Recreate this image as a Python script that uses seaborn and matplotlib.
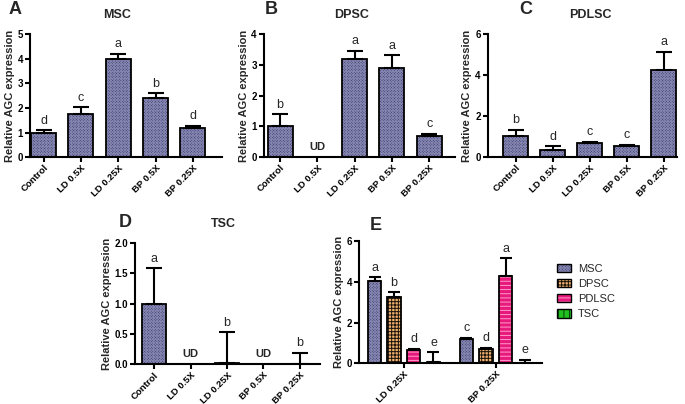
import numpy as np
import pandas as pd
import matplotlib
matplotlib.use("Agg")
import matplotlib.pyplot as plt
from matplotlib.patches import Rectangle, Patch
import seaborn as sns

# data
groups = ["Control", "LD 0.5X", "LD 0.25X", "BP 0.5X", "BP 0.25X"]

msc_mean = [1.0, 1.77, 3.98, 2.41, 1.2]
msc_err = [0.1, 0.26, 0.23, 0.19, 0.07]
msc_letters = ["d", "c", "a", "b", "d"]

dpsc_mean = [1.01, 0.0, 3.21, 2.92, 0.68]
dpsc_err = [0.39, 0.0, 0.25, 0.4, 0.08]
dpsc_letters = ["b", "UD", "a", "a", "c"]

pdlsc_mean = [1.01, 0.34, 0.67, 0.55, 4.28]
pdlsc_err = [0.34, 0.2, 0.08, 0.05, 0.86]
pdlsc_letters = ["b", "d", "c", "c", "a"]

tsc_mean = [1.0, 0.0, 0.02, 0.0, 0.01]
tsc_err = [0.58, 0.0, 0.51, 0.0, 0.18]
tsc_letters = ["a", "UD", "b", "UD", "b"]

combo_groups = ["LD 0.25X", "BP 0.25X"]
cell_types = ["MSC", "DPSC", "PDLSC", "TSC"]
combo_mean = {"MSC": [4.02, 1.2], "DPSC": [3.25, 0.7], "PDLSC": [0.66, 4.28], "TSC": [0.05, 0.03]}
combo_err = {"MSC": [0.21, 0.05], "DPSC": [0.24, 0.07], "PDLSC": [0.04, 0.88], "TSC": [0.49, 0.15]}
combo_letters = {"MSC": ["a", "c"], "DPSC": ["b", "d"], "PDLSC": ["d", "a"], "TSC": ["e", "e"]}

# styles: face colour, hatch colour, hatch pattern
styles = {
    "MSC": ("#3b3b68", "#8484b0", "xxxxxxxxxxxx"),
    "DPSC": ("#eeb070", "#1a1208", "+++++"),
    "PDLSC": ("#e8197c", "#ff9cc8", "----"),
    "TSC": ("#1fbf1f", "#0a3a0a", "|||"),
}

sns.set_style("ticks")
plt.rcParams['font.family'] = ['Liberation Sans', 'DejaVu Sans']
plt.rcParams['hatch.linewidth'] = 0.7


def style_axes(ax, ymax, ystep):
    for side in ["top", "right"]:
        ax.spines[side].set_visible(False)
    for side in ["left", "bottom"]:
        ax.spines[side].set_linewidth(1.5)
        ax.spines[side].set_color("black")
    ax.set_ylim(0, ymax)
    ax.set_yticks(np.arange(0, ymax + ystep / 2, ystep))
    ax.tick_params(axis="both", direction="out", length=3.5, width=1.5, colors="black", pad=1.5)
    ax.tick_params(axis="x", pad=1)
    ax.set_xlabel("")
    ax.set_ylabel("Relative AGC expression", fontsize=8, fontweight="bold", labelpad=2)
    for lab in ax.get_yticklabels():
        lab.set_fontsize(7)
        lab.set_fontweight("bold")
    for lab in ax.get_xticklabels():
        lab.set_fontsize(6.8)
        lab.set_fontweight("bold")
        lab.set_rotation(45)
        lab.set_ha("right")
        lab.set_rotation_mode("anchor")


def dress_bars(ax, bars, cell):
    face, hcol, hatch = styles[cell]
    for p in bars:
        p.set_facecolor(face)
        p.set_edgecolor(hcol)
        p.set_hatch(hatch)
        p.set_linewidth(0)
        if p.get_height() > 0:
            ax.add_patch(Rectangle(p.get_xy(), p.get_width(), p.get_height(),
                                   fill=False, ec="black", lw=1.3, zorder=3))


def add_errors(ax, xs, means, errs, letters, capsize):
    xs = np.asarray(xs)
    means = np.asarray(means)
    errs = np.asarray(errs)
    keep = errs > 0
    ax.errorbar(xs[keep], means[keep], yerr=[np.zeros(keep.sum()), errs[keep]],
                fmt="none", ecolor="black", elinewidth=1.5, capsize=capsize,
                capthick=1.5, zorder=4)
    for x, m, e, t in zip(xs, means, errs, letters):
        if t == "UD":
            ax.annotate(t, (x, 0), xytext=(0, 4), textcoords="offset points",
                        ha="center", va="bottom", fontsize=8, fontweight="bold")
        else:
            ax.annotate(t, (x, m + e), xytext=(0, 2.5), textcoords="offset points",
                        ha="center", va="bottom", fontsize=9)


def single_panel(fig, rect, means, errs, letters, ymax, ystep, xlim):
    # panels A-D all use the MSC-style fill
    ax = fig.add_axes(rect)
    df = pd.DataFrame({"group": groups, "value": means})
    sns.barplot(data=df, x="group", y="value", color=styles["MSC"][0],
                errorbar=None, width=0.67, ax=ax)
    dress_bars(ax, ax.patches, "MSC")
    add_errors(ax, np.arange(len(groups)), means, errs, letters, capsize=6)
    ax.set_xlim(*xlim)
    style_axes(ax, ymax, ystep)
    return ax


fig = plt.figure(figsize=(6.85, 4.04), dpi=100)

single_panel(fig, [0.044, 0.611, 0.280, 0.304], msc_mean, msc_err, msc_letters, 5, 1, (-0.36, 4.78))
single_panel(fig, [0.385, 0.611, 0.279, 0.304], dpsc_mean, dpsc_err, dpsc_letters, 4, 1, (-0.44, 4.69))
single_panel(fig, [0.712, 0.611, 0.276, 0.304], pdlsc_mean, pdlsc_err, pdlsc_letters, 6, 2, (-0.75, 4.35))
axD = single_panel(fig, [0.197, 0.0985, 0.270, 0.300], tsc_mean, tsc_err, tsc_letters, 2.0, 0.5, (-0.53, 4.55))
axD.set_yticklabels([f"{v:.1f}" for v in axD.get_yticks()], fontsize=7, fontweight="bold")

# panel E: grouped bars
axE = fig.add_axes([0.524, 0.101, 0.267, 0.302])
rows = []
for c in cell_types:
    for g, v in zip(combo_groups, combo_mean[c]):
        rows.append({"group": g, "cell": c, "value": v})
dfE = pd.DataFrame(rows)
sns.barplot(data=dfE, x="group", y="value", hue="cell", hue_order=cell_types,
            order=combo_groups, palette=[styles[c][0] for c in cell_types],
            errorbar=None, width=0.855, gap=0.32, legend=False, ax=axE)
for cont, c in zip(axE.containers, cell_types):
    bars = list(cont)
    dress_bars(axE, bars, c)
    xs = [b.get_x() + b.get_width() / 2 for b in bars]
    add_errors(axE, xs, combo_mean[c], combo_err[c], combo_letters[c], capsize=4.5)
axE.set_xlim(-0.49, 1.5)
style_axes(axE, 6, 2)

# legend: hatched patch with a black outline drawn on top
handles = [(Patch(facecolor=styles[c][0], edgecolor=styles[c][1], hatch=styles[c][2], lw=0),
            Patch(fill=False, edgecolor="black", lw=1.0))
           for c in cell_types]
fig.legend(handles, cell_types, loc="upper left", bbox_to_anchor=(0.798, 0.372),
           frameon=False, fontsize=8, handlelength=1.3, handleheight=0.8,
           handletextpad=0.6, labelspacing=0.45)

# titles and panel letters
for x, y, t in [(117, 15, "MSC"), (352, 15, "DPSC"), (590, 15, "PDLSC"), (223, 224, "TSC")]:
    fig.text(x / 685, 1 - y / 404, t, ha="center", va="center", fontsize=9, fontweight="bold")
for x, y, t in [(15, 10, "A"), (271, 10, "B"), (526, 10, "C"), (125, 222, "D"), (376, 225, "E")]:
    fig.text(x / 685, 1 - y / 404, t, ha="center", va="center", fontsize=13, fontweight="bold")

fig.savefig("out.png", dpi=100)
